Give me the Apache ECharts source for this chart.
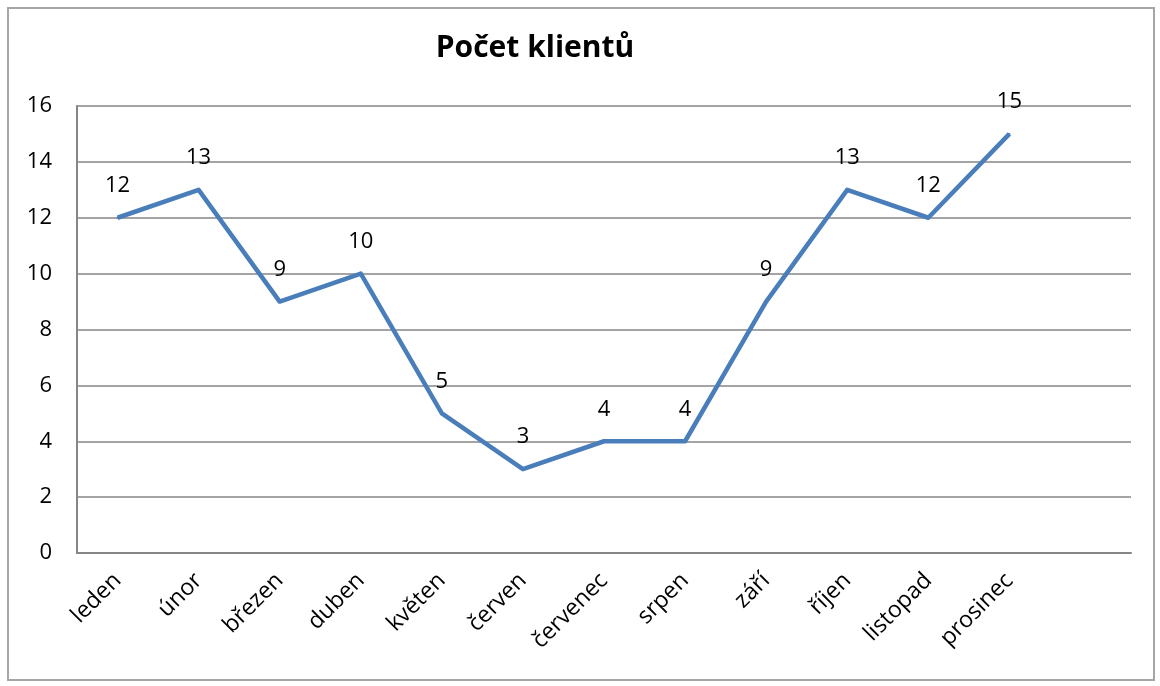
<!DOCTYPE html>
<html>
<head>
<meta charset="utf-8">
<script src="https://cdn.jsdelivr.net/npm/echarts@6/dist/echarts.min.js"></script>
<style>
html,body{margin:0;padding:0;background:#fff;}
#frame{position:absolute;left:7px;top:7px;width:1144px;height:670px;border:2px solid #a6a6a6;}
#chart{position:absolute;left:0;top:0;width:1160px;height:686px;}
</style>
</head>
<body>
<div id="frame"></div>
<div id="chart"></div>
<script>
const title = "Počet klientů";
const categories = ["leden","únor","březen","duben","květen","červen","červenec","srpen","září","říjen","listopad","prosinec",""];
const values = [12,13,9,10,5,3,4,4,9,13,12,15];
const yTicks = {min:0, max:16, interval:2};

const chart = echarts.init(document.getElementById('chart'), null, {renderer:'canvas'});
const font = "'Open Sans', 'Noto Sans', sans-serif";
chart.setOption({
  animation:false,
  backgroundColor:'transparent',
  title:{text:title,left:530,top:28,textAlign:'center',
    textStyle:{fontFamily:font,fontSize:30,fontWeight:'bold',color:'#000'}},
  grid:{left:77,right:29,top:106,bottom:133},
  xAxis:{type:'category',data:categories,boundaryGap:true,
    axisLine:{show:true,lineStyle:{color:'#868686',width:2}},
    axisTick:{show:false},
    axisLabel:{rotate:45,interval:0,margin:24,fontFamily:font,fontSize:23,color:'#000'}},
  yAxis:{type:'value',min:yTicks.min,max:yTicks.max,interval:yTicks.interval,
    axisLine:{show:true,lineStyle:{color:'#868686',width:2}},
    axisTick:{show:false},
    axisLabel:{margin:25,fontFamily:font,fontSize:22,color:'#000'},
    splitLine:{show:true,lineStyle:{color:'#868686',width:1.5}}},
  series:[{type:'line',data:values,symbol:'circle',symbolSize:2,showSymbol:true,
    itemStyle:{color:'#4a7ebb'},
    lineStyle:{color:'#4a7ebb',width:4.5,join:'round'},
    labelLayout:{hideOverlap:false},
    label:{show:true,position:'top',distance:20,fontFamily:font,fontSize:22,color:'#000'}}]
});
</script>
</body>
</html>
